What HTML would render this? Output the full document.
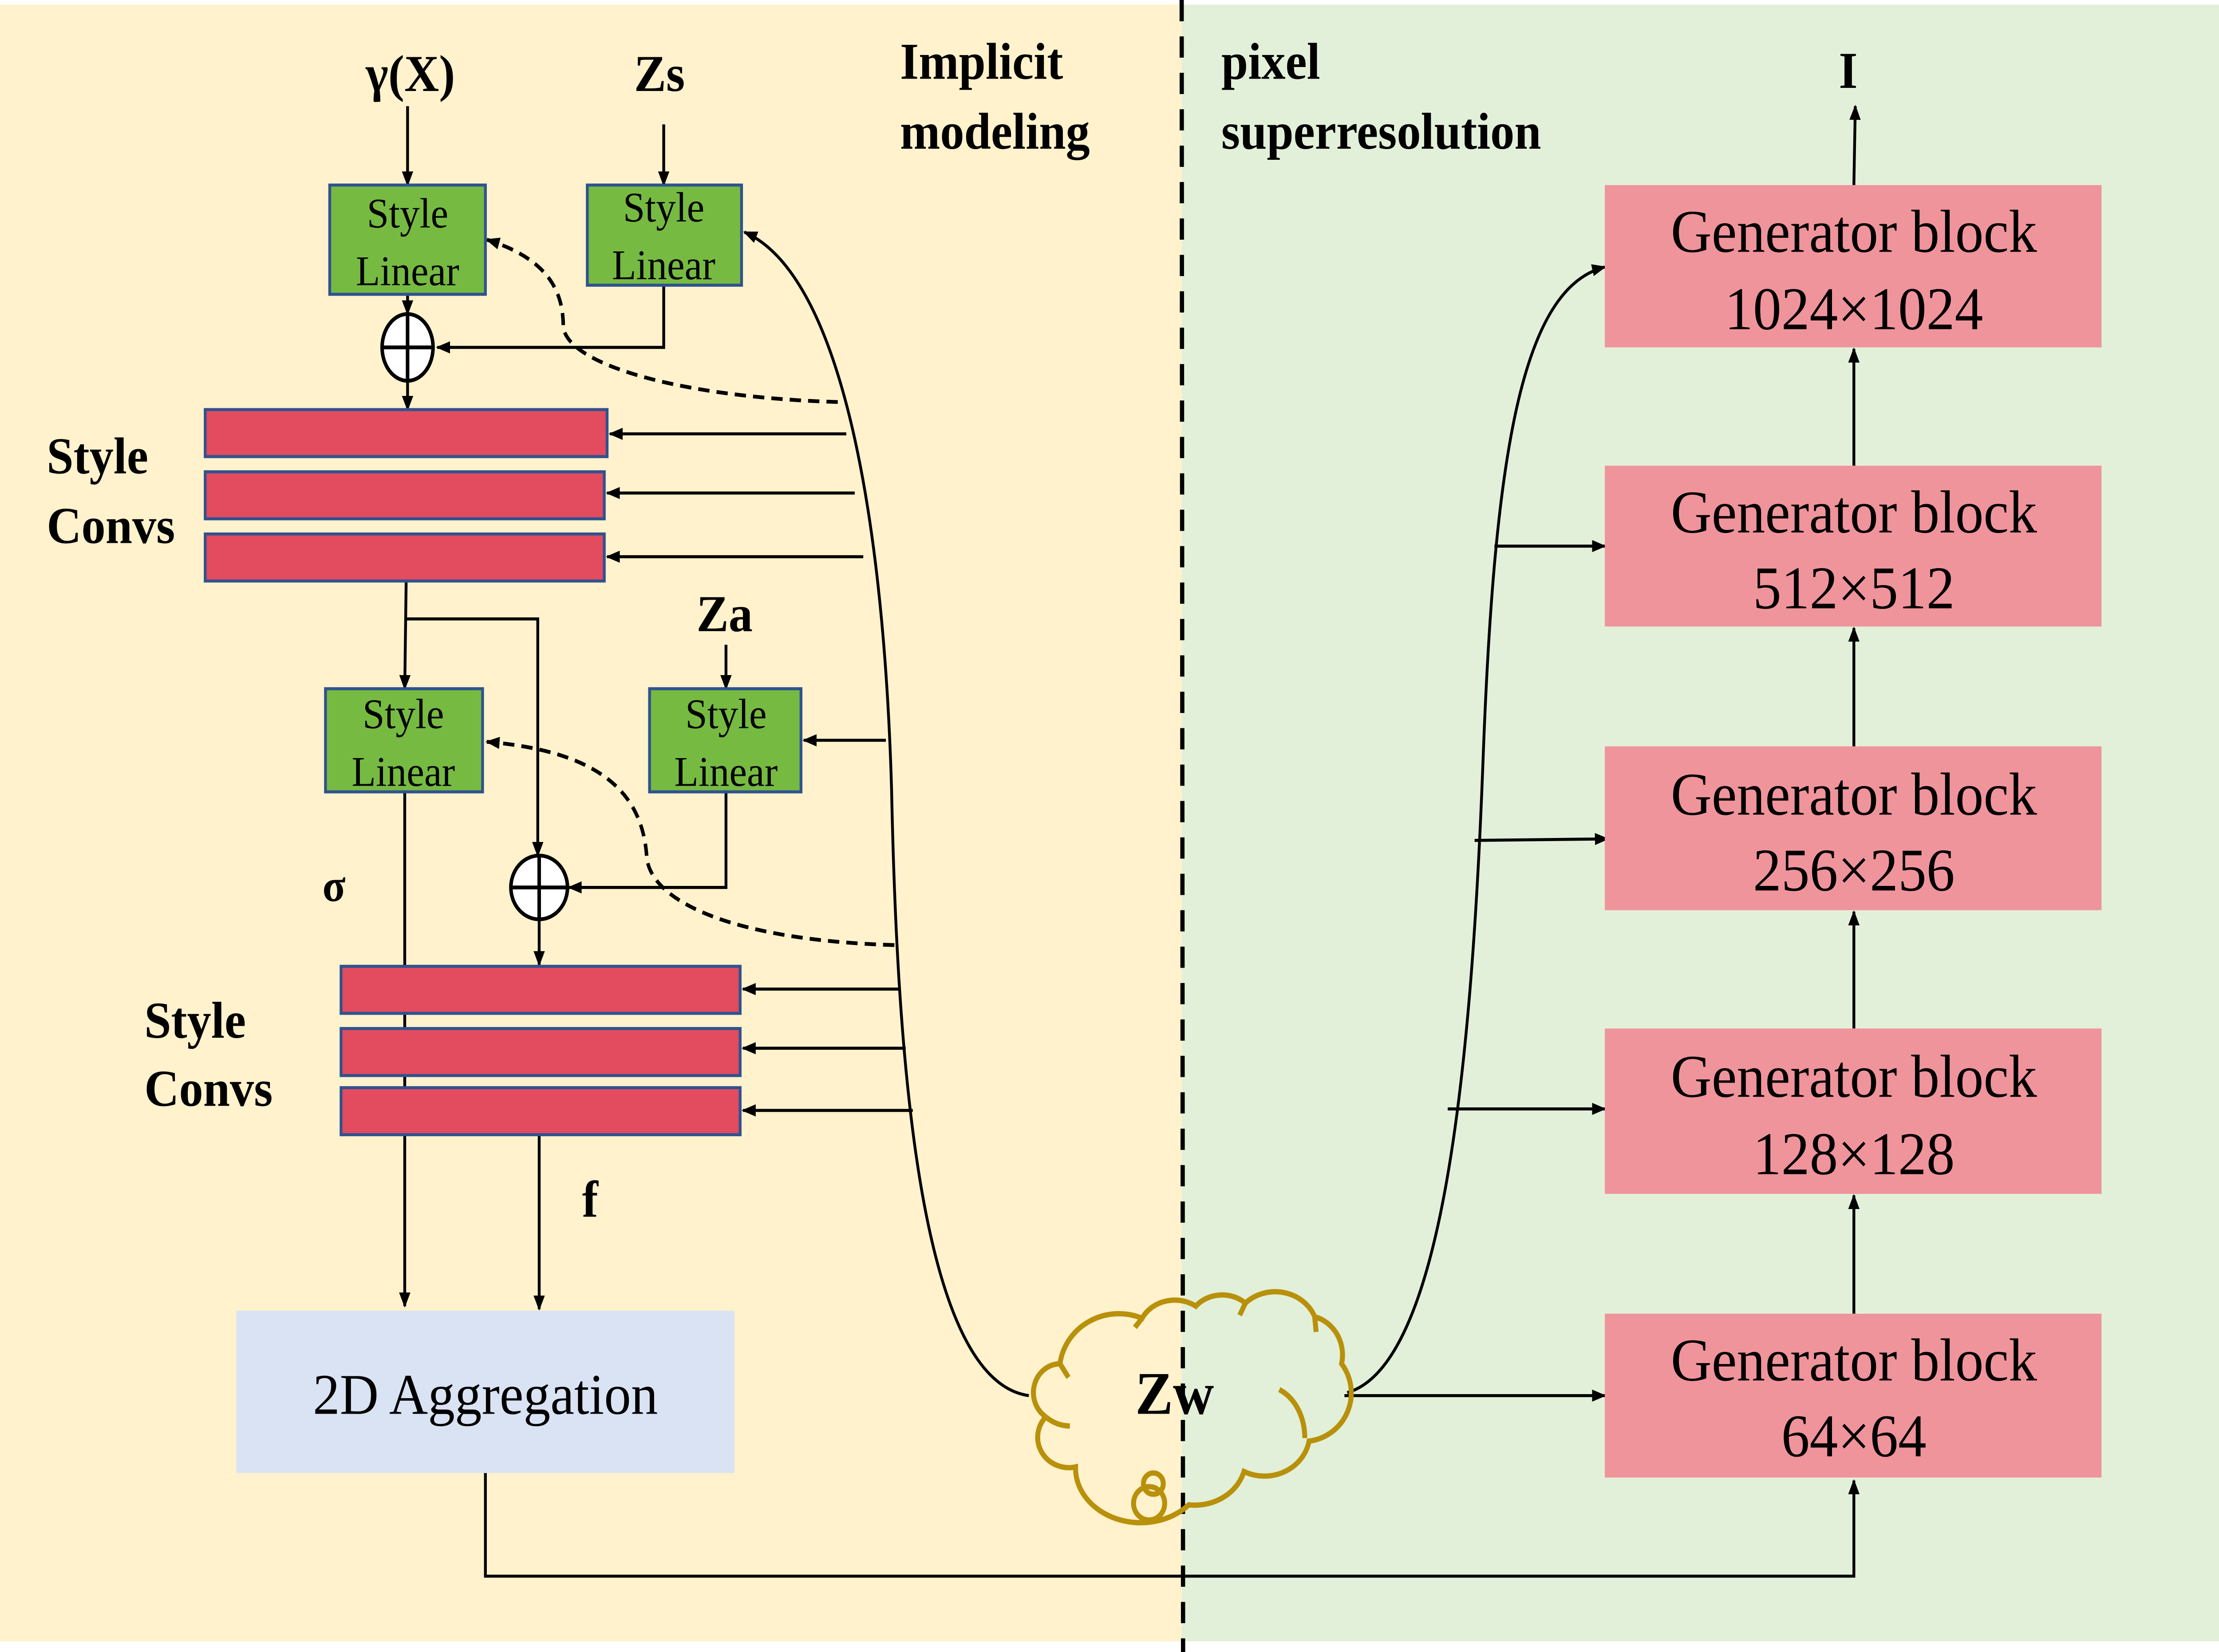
<!DOCTYPE html>
<html><head><meta charset="utf-8"><style>
html,body{margin:0;padding:0;background:#fff;overflow:hidden;width:100vw;height:100vh;}
svg{display:block;position:fixed;left:0;top:0;width:100vw;height:100vh;}
text{font-family:"Liberation Serif",serif;}
</style></head><body>
<svg viewBox="0 0 1568 1089" preserveAspectRatio="none" xmlns="http://www.w3.org/2000/svg">
<defs>
<marker id="a" markerWidth="10" markerHeight="10" refX="9" refY="5" orient="auto" markerUnits="userSpaceOnUse"><path d="M0,1 L10,5 L0,9 Z" fill="#000"/></marker>
</defs>
<rect x="0" y="0" width="1568" height="1089" fill="#fff"/>
<rect x="0" y="3" width="835" height="1079" fill="#FFF2CC"/>
<rect x="835" y="3" width="733" height="1079" fill="#E2F0D9"/>
<line x1="835" y1="0" x2="836" y2="1089" stroke="#000" stroke-width="3" stroke-dasharray="14,10"/>

<g font-weight="bold" font-size="34" fill="#000">
<text x="290" y="60" text-anchor="middle">γ(X)</text>
<text x="466" y="60" text-anchor="middle">Zs</text>
<text x="512" y="416" text-anchor="middle">Za</text>
<text x="236" y="594" text-anchor="middle" font-size="30">σ</text>
<text x="417" y="802" text-anchor="middle">f</text>
<text x="1306" y="58" text-anchor="middle">I</text>
<text x="33" y="312">Style</text><text x="33" y="358">Convs</text>
<text x="102" y="684">Style</text><text x="102" y="729">Convs</text>
<text x="636" y="52">Implicit</text><text x="636" y="98">modeling</text>
<text x="863" y="52">pixel</text><text x="863" y="98">superresolution</text>
<text x="830" y="932" text-anchor="middle" font-size="40">Zw</text>
</g>

<g stroke="#000" stroke-width="2" fill="none">
<line x1="288" y1="70" x2="288" y2="122" marker-end="url(#a)"/>
<line x1="469" y1="82" x2="469" y2="122" marker-end="url(#a)"/>
<line x1="288" y1="194" x2="288" y2="207" marker-end="url(#a)"/>
<line x1="288" y1="251" x2="288" y2="270" marker-end="url(#a)"/>
<polyline points="469,188 469,229 309,229" marker-end="url(#a)"/>
<path d="M592,265 C480,262 400,240 398,215 C398,190 385,170 344,158" stroke-width="2.5" stroke-dasharray="8,5" marker-end="url(#a)"/>
<path d="M727,920 C650,910 634,700 630,520 C624,330 592,180 526,153" marker-end="url(#a)"/>
<line x1="598" y1="286" x2="431" y2="286" marker-end="url(#a)"/>
<line x1="604" y1="325" x2="429" y2="325" marker-end="url(#a)"/>
<line x1="610" y1="367" x2="429" y2="367" marker-end="url(#a)"/>
<line x1="287" y1="383" x2="286" y2="454" marker-end="url(#a)"/>
<polyline points="287,408 380,408 380,564" marker-end="url(#a)"/>
<line x1="513" y1="425" x2="513" y2="454" marker-end="url(#a)"/>
<line x1="626" y1="488" x2="568" y2="488" marker-end="url(#a)"/>
<polyline points="513,522 513,585 402,585" marker-end="url(#a)"/>
<path d="M632,623 C520,620 460,595 457,565 C454,520 420,495 344,489" stroke-width="2.5" stroke-dasharray="8,5" marker-end="url(#a)"/>
<line x1="381" y1="607" x2="381" y2="636" marker-end="url(#a)"/>
<line x1="636" y1="652" x2="525" y2="652" marker-end="url(#a)"/>
<line x1="640" y1="691" x2="525" y2="691" marker-end="url(#a)"/>
<line x1="645" y1="732" x2="525" y2="732" marker-end="url(#a)"/>
<line x1="286" y1="522" x2="286" y2="861" marker-end="url(#a)"/>
<line x1="381" y1="748" x2="381" y2="863" marker-end="url(#a)"/>
<polyline points="343,971 343,1039 1310,1039 1310,976" marker-end="url(#a)"/>
<line x1="950" y1="920" x2="1134" y2="920" marker-end="url(#a)"/>
<path d="M952,918 C1020,900 1040,700 1048,500 C1056,300 1075,190 1134,176" marker-end="url(#a)"/>
<line x1="1056" y1="360" x2="1134" y2="360" marker-end="url(#a)"/>
<line x1="1042" y1="554" x2="1136" y2="553" marker-end="url(#a)"/>
<line x1="1023" y1="731" x2="1134" y2="731" marker-end="url(#a)"/>
<line x1="1310" y1="866" x2="1310" y2="788" marker-end="url(#a)"/>
<line x1="1310" y1="678" x2="1310" y2="601" marker-end="url(#a)"/>
<line x1="1310" y1="492" x2="1310" y2="414" marker-end="url(#a)"/>
<line x1="1310" y1="307" x2="1310" y2="230" marker-end="url(#a)"/>
<line x1="1310" y1="122" x2="1311" y2="70" marker-end="url(#a)"/>
</g>

<g fill="#76BA42" stroke="#2F528F" stroke-width="2">
<rect x="233" y="122" width="110" height="72"/>
<rect x="415" y="122" width="109" height="66"/>
<rect x="230" y="454" width="111" height="68"/>
<rect x="459" y="454" width="107" height="68"/>
</g>
<g font-size="28" text-anchor="middle" fill="#000">
<text x="288" y="150">Style</text><text x="288" y="188">Linear</text>
<text x="469" y="146">Style</text><text x="469" y="184">Linear</text>
<text x="285" y="480">Style</text><text x="285" y="518">Linear</text>
<text x="513" y="480">Style</text><text x="513" y="518">Linear</text>
</g>

<g fill="#fff" stroke="#000" stroke-width="2.5">
<ellipse cx="288" cy="229" rx="18" ry="22"/>
<ellipse cx="381" cy="585" rx="20" ry="21"/>
</g>
<g stroke="#000" stroke-width="2.5">
<line x1="270" y1="229" x2="306" y2="229"/><line x1="288" y1="207" x2="288" y2="251"/>
<line x1="361" y1="585" x2="401" y2="585"/><line x1="381" y1="564" x2="381" y2="606"/>
</g>

<g fill="#E34B5F" stroke="#2F528F" stroke-width="2">
<rect x="145" y="270" width="284" height="31"/>
<rect x="145" y="311" width="282" height="31"/>
<rect x="145" y="352" width="282" height="31"/>
<rect x="241" y="637" width="282" height="31"/>
<rect x="241" y="678" width="282" height="31"/>
<rect x="241" y="717" width="282" height="31"/>
</g>

<rect x="167" y="864" width="352" height="107" fill="#DAE3F3"/>
<text x="343" y="932" font-size="38" text-anchor="middle">2D Aggregation</text>

<g fill="#F0949C">
<rect x="1134" y="122" width="351" height="107"/>
<rect x="1134" y="307" width="351" height="106"/>
<rect x="1134" y="492" width="351" height="108"/>
<rect x="1134" y="678" width="351" height="109"/>
<rect x="1134" y="866" width="351" height="108"/>
</g>
<g font-size="40" text-anchor="middle" fill="#000">
<text x="1310" y="166">Generator block</text><text x="1310" y="217">1024×1024</text>
<text x="1310" y="351">Generator block</text><text x="1310" y="401">512×512</text>
<text x="1310" y="537">Generator block</text><text x="1310" y="587">256×256</text>
<text x="1310" y="723">Generator block</text><text x="1310" y="774">128×128</text>
<text x="1310" y="910">Generator block</text><text x="1310" y="960">64×64</text>
</g>

<g fill="none" stroke="#B8900A" stroke-width="3.5">
<path d="M739,934 A19,19 0 0 1 749,899 A42,38 0 0 1 807,869 A26,22 0 0 1 845,861 A24,20 0 0 1 880,859 A30,26 0 0 1 929,868 A26,26 0 0 1 948,899 A34,32 0 0 1 925,950 A32,28 0 0 1 879,970 A36,30 0 0 1 840,992 A46,36 0 0 1 760,967 A22,20 0 0 1 739,934"/>
<path d="M739,934 C744,938 750,940 756,940"/>
<path d="M749,899 L755,908"/>
<path d="M904,916 C916,922 922,935 922,948"/>
<path d="M929,868 L930,878"/>
<path d="M880,859 L876,867"/>
<path d="M807,869 L802,875"/>
<circle cx="812" cy="991" r="11"/>
<circle cx="815" cy="978" r="7"/>
</g>
</svg>
</body></html>
